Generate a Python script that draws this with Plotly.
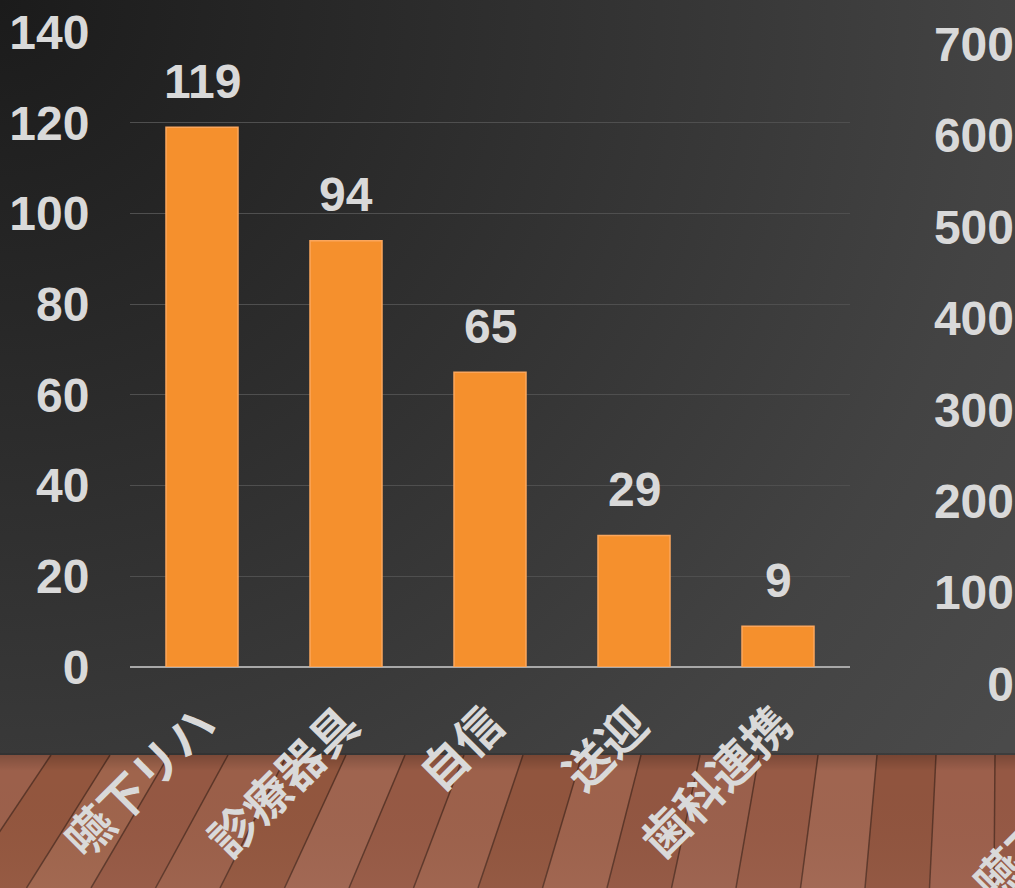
import base64
import plotly.graph_objects as go

# ---- data ----
categories = ["嚥下リハ", "診療器具", "自信", "送迎", "歯科連携"]
values = [119, 94, 65, 29, 9]
left_ticks = [0, 20, 40, 60, 80, 100, 120, 140]
right_ticks = [0, 100, 200, 300, 400, 500, 600, 700]
next_chart_label = "嚥下リハ"

W, H = 1015, 888
FLOOR_TOP = 755

# ---- background (dark wall + wooden floor) as an SVG image ----
plank_cols = ["#955844", "#9c5f4b", "#90543e", "#a06550", "#975a45", "#9b604c",
              "#925641", "#9e624c", "#91553e", "#9d614b", "#965944", "#9f644f",
              "#92563e", "#9b5f49", "#955843", "#9f644c", "#93563e", "#9c604b",
              "#975b46", "#9e634c"]
parts = []
parts.append(f'<svg xmlns="http://www.w3.org/2000/svg" width="{W}" height="{H}" viewBox="0 0 {W} {H}">')
parts.append('<defs>'
             '<radialGradient id="wall" cx="0" cy="0" r="1250" gradientUnits="userSpaceOnUse">'
             '<stop offset="0" stop-color="#1b1b1b"/>'
             '<stop offset="0.45" stop-color="#313131"/>'
             '<stop offset="0.8" stop-color="#434343"/>'
             '<stop offset="1" stop-color="#4a4a4a"/>'
             '</radialGradient>'
             '<linearGradient id="shade" x1="0" y1="0" x2="0" y2="1">'
             '<stop offset="0" stop-color="#000" stop-opacity="0.18"/>'
             '<stop offset="0.12" stop-color="#000" stop-opacity="0.0"/>'
             '<stop offset="1" stop-color="#fff" stop-opacity="0.03"/>'
             '</linearGradient>'
             '</defs>')
parts.append(f'<rect x="0" y="0" width="{W}" height="{H}" fill="url(#wall)"/>')
parts.append(f'<rect x="0" y="{FLOOR_TOP}" width="{W}" height="{H-FLOOR_TOP}" fill="#965a45"/>')
for k in range(-2, 22):
    xt0 = 995 - 59 * k
    xt1 = 995 - 59 * (k - 1)
    xb0 = xt0 - 5.5 * k - 1
    xb1 = xt1 - 5.5 * (k - 1) - 1
    col = plank_cols[k % len(plank_cols)]
    parts.append(f'<polygon points="{xt0},{FLOOR_TOP} {xt1},{FLOOR_TOP} {xb1},{H} {xb0},{H}" fill="{col}"/>')
for k in range(-2, 22):
    xt0 = 995 - 59 * k
    xb0 = xt0 - 5.5 * k - 1
    parts.append(f'<line x1="{xt0}" y1="{FLOOR_TOP}" x2="{xb0}" y2="{H}" stroke="#4e2e22" stroke-width="1.5" opacity="0.8"/>')
parts.append(f'<rect x="0" y="{FLOOR_TOP}" width="{W}" height="{H-FLOOR_TOP}" fill="url(#shade)"/>')
parts.append(f'<rect x="0" y="{FLOOR_TOP-2}" width="{W}" height="2" fill="#2a2a2a" opacity="0.4"/>')
parts.append('</svg>')
svg = "".join(parts)
bg_src = "data:image/svg+xml;base64," + base64.b64encode(svg.encode("utf-8")).decode("ascii")

# ---- figure ----
num_font = "Liberation Sans, Arial, sans-serif"
cjk_font = "Noto Sans CJK JP, sans-serif"
label_col = "#d9d9d9"

fig = go.Figure()
fig.add_trace(go.Bar(
    x=categories, y=values,
    marker=dict(color="#f5902d", line=dict(color="#fba65c", width=1.5)),
    width=0.5,
    hoverinfo="skip",
))
# invisible trace so the partially visible second chart's axis is drawn
fig.add_trace(go.Scatter(x=[None], y=[None], xaxis="x2", yaxis="y2", showlegend=False))

for c, v in zip(categories, values):
    fig.add_annotation(x=c, y=v, text=str(v), showarrow=False, yanchor="middle", yshift=46,
                       font=dict(family=num_font, size=48, color=label_col, weight="bold"))

fig.add_annotation(xref="paper", yref="paper", x=1046 / W, y=(H - 822) / H, text=next_chart_label,
                   xanchor="center", yanchor="middle",
                   showarrow=False, textangle=-45,
                   font=dict(family=cjk_font, size=47, color=label_col, weight="bold"))

fig.update_layout(
    width=W, height=H,
    margin=dict(l=0, r=0, t=0, b=0),
    paper_bgcolor="rgba(0,0,0,0)", plot_bgcolor="rgba(0,0,0,0)",
    showlegend=False,
    images=[dict(source=bg_src, xref="paper", yref="paper", x=0, y=1, sizex=1, sizey=1,
                 xanchor="left", yanchor="top", sizing="stretch", layer="below")],
    xaxis=dict(domain=[130 / W, 850 / W], tickangle=-45, showgrid=False, showline=False,
               ticks="outside", ticklen=10, tickcolor="rgba(0,0,0,0)", automargin=False,
               tickfont=dict(family=cjk_font, size=47, color=label_col, weight="bold"),
               fixedrange=True),
    yaxis=dict(domain=[(H - 667) / H, (H - 32) / H], range=[0, 140], tickvals=left_ticks,
               showgrid=True, gridcolor="#4f4f4f", gridwidth=1, automargin=False,
               zeroline=True, zerolinecolor="#a8a8a8", zerolinewidth=2,
               ticks="outside", ticklen=30, tickcolor="rgba(0,0,0,0)",
               tickfont=dict(family=num_font, size=48, color=label_col, weight="bold"),
               fixedrange=True),
    xaxis2=dict(domain=[0.999, 1.0], anchor="y2", visible=False, fixedrange=True, automargin=False),
    yaxis2=dict(domain=[(H - 684) / H, (H - 44) / H], range=[0, 700], tickvals=right_ticks,
                anchor="x2", side="left", showgrid=False, zeroline=False, showline=False,
                ticks="", automargin=False, ticklabelstandoff=-1,
                tickfont=dict(family=num_font, size=48, color=label_col, weight="bold"),
                fixedrange=True),
)

fig.write_html("out.html")
